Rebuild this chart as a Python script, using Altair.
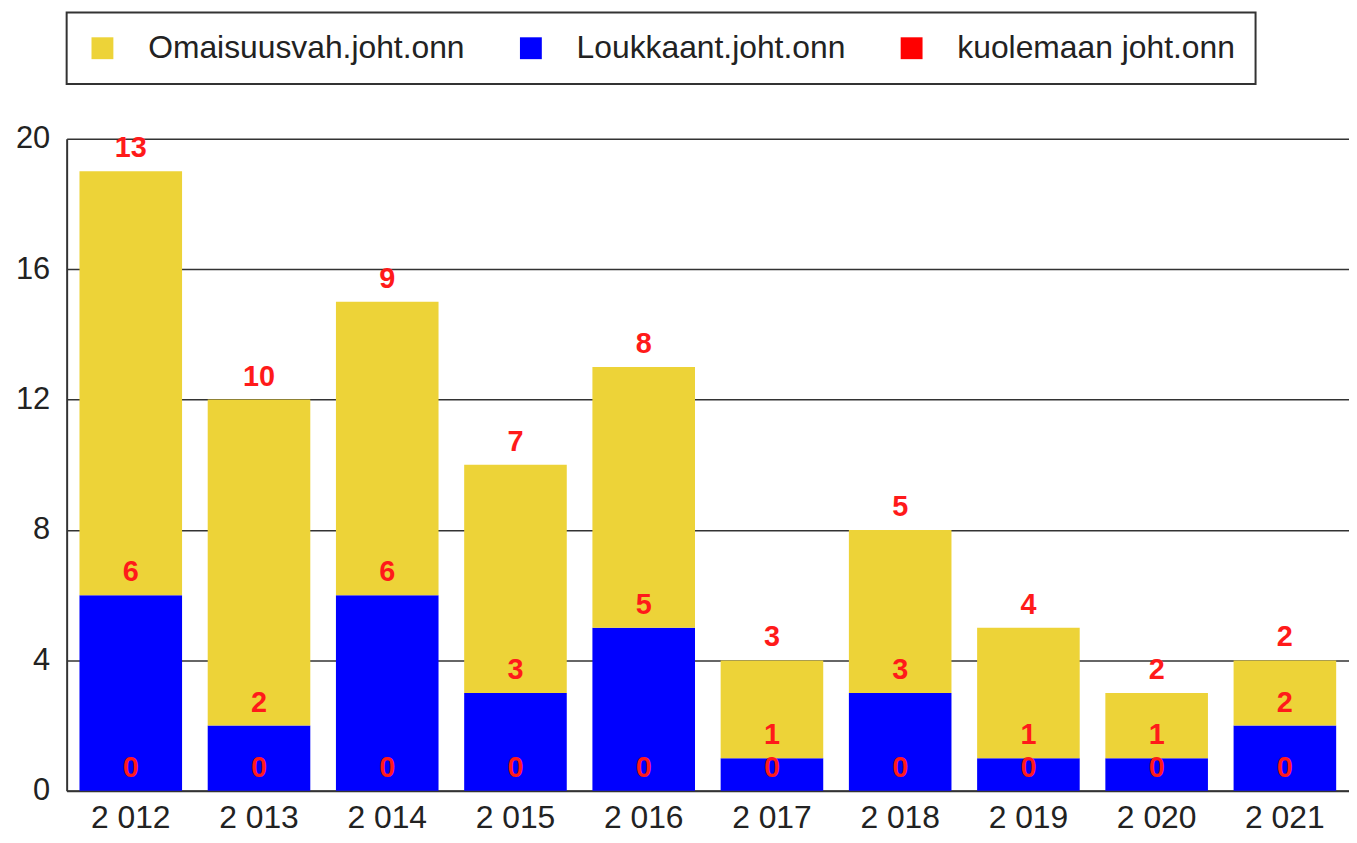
import altair as alt
import pandas as pd

years = ["2 012", "2 013", "2 014", "2 015", "2 016", "2 017", "2 018", "2 019", "2 020", "2 021"]
omaisuus = [13, 10, 9, 7, 8, 3, 5, 4, 2, 2]
loukkaant = [6, 2, 6, 3, 5, 1, 3, 1, 1, 2]
kuolemaan = [0, 0, 0, 0, 0, 0, 0, 0, 0, 0]

series_names = ["Omaisuusvah.joht.onn", "Loukkaant.joht.onn", "kuolemaan joht.onn"]
series_colors = ["#EDD338", "#0000FF", "#FF0000"]
y_ticks = [0, 4, 8, 12, 16, 20]

rows = []
for i, yr in enumerate(years):
    rows.append({"year": yr, "series": series_names[2], "value": kuolemaan[i], "order": 0})
    rows.append({"year": yr, "series": series_names[1], "value": loukkaant[i], "order": 1})
    rows.append({"year": yr, "series": series_names[0], "value": omaisuus[i], "order": 2})
df = pd.DataFrame(rows)

FONT = "Liberation Sans"

base = alt.Chart(df).transform_stack(
    stack="value", as_=["y0", "y1"], groupby=["year"], sort=[alt.SortField("order", order="ascending")]
)

x_enc = alt.X(
    "year:N",
    sort=years,
    title=None,
    scale=alt.Scale(paddingInner=0.2, paddingOuter=0.1),
    axis=alt.Axis(labelAngle=0, ticks=False, labelFontSize=32, labelColor="#222",
                  labelPadding=12, domainColor="#333", domainWidth=2, labelFont=FONT),
)

bars = base.mark_bar().encode(
    x=x_enc,
    y=alt.Y("y0:Q", title=None,
            scale=alt.Scale(domain=[0, 20], nice=False),
            axis=alt.Axis(values=y_ticks, ticks=False, labelFontSize=31, labelColor="#222",
                          labelPadding=17, domainColor="#333", domainWidth=2,
                          gridColor="#333", gridWidth=1.5, labelFont=FONT)),
    y2="y1:Q",
    color=alt.Color("series:N",
                    scale=alt.Scale(domain=series_names, range=series_colors),
                    legend=alt.Legend(title=None, orient="top", direction="horizontal",
                                      symbolType="square", symbolSize=484, symbolStrokeWidth=0,
                                      labelFontSize=32, labelFont=FONT, labelColor="#222",
                                      labelOffset=30, columnPadding=50, padding=20,
                                      strokeColor="#333", fillColor="white",
                                      labelLimit=600, offset=55)),
)

labels = base.mark_text(color="#FF1A1A", fontWeight="bold", fontSize=29, font=FONT,
                        baseline="middle", dy=-23).encode(
    x=alt.X("year:N", sort=years),
    y=alt.Y("y1:Q"),
    text=alt.Text("value:Q"),
)

chart = alt.layer(bars, labels).properties(
    width=1290, height=656,
    padding={"left": 7, "top": 1, "right": 0, "bottom": 0},
).configure_view(stroke=None).configure_legend(strokeWidth=2)

chart.save("out.html", embed_options={"renderer": "svg", "actions": False})
